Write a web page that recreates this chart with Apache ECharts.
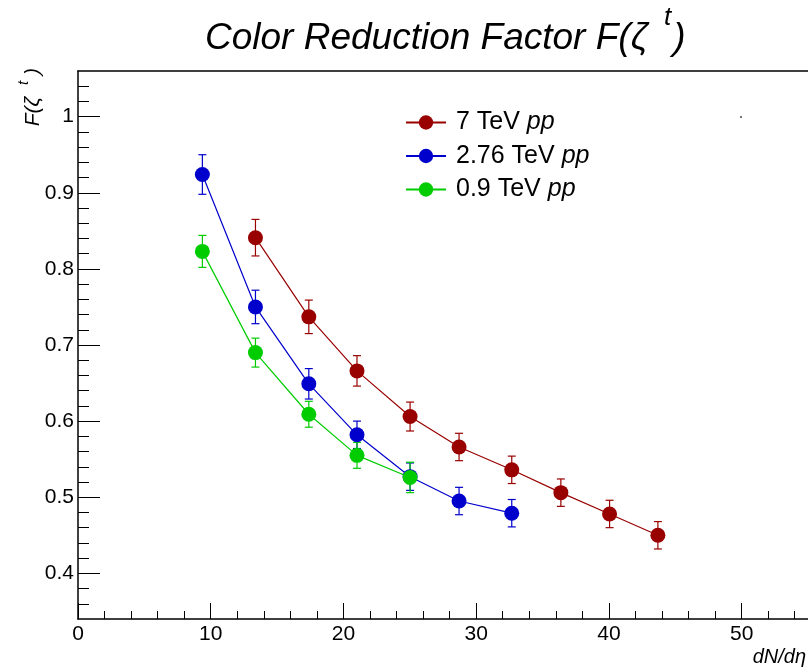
<!DOCTYPE html>
<html>
<head>
<meta charset="utf-8">
<script src="https://cdn.jsdelivr.net/npm/echarts@6/dist/echarts.min.js"></script>
<style>
html,body{margin:0;padding:0;background:#fff;}
#chart{width:808px;height:670px;}
</style>
</head>
<body>
<div id="chart"></div>
<script>
// ---- data ----
var seriesNames = ['7 TeV pp', '2.76 TeV pp', '0.9 TeV pp'];
var redX = [13.37, 17.39, 21.02, 25.02, 28.71, 32.68, 36.38, 40.05, 43.69];
var redY = [0.841, 0.737, 0.666, 0.606, 0.566, 0.536, 0.506, 0.478, 0.450];
var redErr = [0.024, 0.022, 0.020, 0.019, 0.018, 0.018, 0.018, 0.018, 0.018];
var blueX = [9.37, 13.37, 17.39, 21.02, 25.02, 28.71, 32.68];
var blueY = [0.924, 0.750, 0.649, 0.582, 0.527, 0.495, 0.479];
var blueErr = [0.026, 0.022, 0.020, 0.018, 0.018, 0.018, 0.018];
var greenX = [9.37, 13.37, 17.39, 21.02, 25.02];
var greenY = [0.823, 0.690, 0.609, 0.555, 0.526];
var greenErr = [0.021, 0.019, 0.017, 0.017, 0.020];
var xMajorTicks = [0, 10, 20, 30, 40, 50];
var xMinorTicks = [2, 4, 6, 8, 12, 14, 16, 18, 22, 24, 26, 28, 32, 34, 36, 38, 42, 44, 46, 48, 52, 54];
var yMajorTicks = [0.4, 0.5, 0.6, 0.7, 0.8, 0.9, 1.0];
var yMinorTicks = [0.36, 0.38, 0.42, 0.44, 0.46, 0.48, 0.52, 0.54, 0.56, 0.58, 0.62, 0.64, 0.66, 0.68, 0.72, 0.74, 0.76, 0.78, 0.82, 0.84, 0.86, 0.88, 0.92, 0.94, 0.96, 0.98, 1.02, 1.04];

var colors = ['#990000', '#0000cc', '#00cc00'];
var FONT = '"Liberation Sans", Arial, Helvetica, sans-serif';

function zip(xs, ys) { return xs.map(function (x, i) { return [x, ys[i]]; }); }
function errData(xs, ys, es) { return xs.map(function (x, i) { return [x, ys[i] - es[i], ys[i] + es[i]]; }); }

function errSeries(name, data, color) {
  return {
    type: 'custom', name: name, data: data, z: 2, silent: true,
    encode: { x: 0, y: [1, 2] },
    renderItem: function (params, api) {
      var x = api.value(0);
      var lo = api.coord([x, api.value(1)]);
      var hi = api.coord([x, api.value(2)]);
      var w = 4;
      var st = { stroke: color, lineWidth: 1.2 };
      return {
        type: 'group', children: [
          { type: 'line', shape: { x1: lo[0], y1: lo[1], x2: hi[0], y2: hi[1] }, style: st },
          { type: 'line', shape: { x1: lo[0] - w, y1: lo[1], x2: lo[0] + w, y2: lo[1] }, style: st },
          { type: 'line', shape: { x1: hi[0] - w, y1: hi[1], x2: hi[0] + w, y2: hi[1] }, style: st }
        ]
      };
    }
  };
}
function lineSeries(name, data, color) {
  return {
    type: 'line', name: name, data: data, z: 3,
    symbol: 'circle', symbolSize: 15, showSymbol: true,
    itemStyle: { color: color },
    lineStyle: { color: color, width: 1.2 },
    animation: false
  };
}

var axisBlack = { color: '#000', width: 1.5 };
var tickBlack = { color: '#000', width: 1 };

var chart = echarts.init(document.getElementById('chart'), null, { renderer: 'canvas' });
chart.setOption({
  animation: false,
  backgroundColor: '#fff',
  title: {
    text: '{a|Color Reduction Factor F(ζ }{s|t}{a|)}',
    left: 200, top: 0,
    textStyle: {
      rich: {
        a: { fontFamily: FONT, fontStyle: 'italic', fontWeight: 'normal', fontSize: 37, color: '#000', lineHeight: 52, verticalAlign: 'bottom' },
        s: { fontFamily: FONT, fontStyle: 'italic', fontWeight: 'normal', fontSize: 26, color: '#000', lineHeight: 30, verticalAlign: 'top', padding: [0, 2, 0, 6] }
      }
    }
  },
  legend: {
    orient: 'vertical', left: 400, top: 105,
    itemWidth: 40, itemHeight: 18, itemGap: 8.5,
    data: seriesNames,
    formatter: function (name) {
      var parts = name.split(' pp');
      return '{n|' + parts[0] + ' }{i|pp}';
    },
    textStyle: {
      rich: {
        n: { fontFamily: FONT, fontSize: 25, color: '#000', padding: [0, 0, 0, 5] },
        i: { fontFamily: FONT, fontSize: 25, color: '#000', fontStyle: 'italic' }
      }
    }
  },
  grid: { left: 78, top: 71, width: 730, height: 548, show: false },
  xAxis: [{
    type: 'value', min: 0, max: 55, position: 'bottom',
    axisLine: { show: true, onZero: false, lineStyle: axisBlack },
    axisTick: { show: true, inside: true, length: 16, customValues: xMajorTicks, lineStyle: tickBlack },
    splitLine: { show: false },
    axisLabel: { fontFamily: FONT, fontSize: 21, color: '#000', margin: 5, customValues: xMajorTicks }
  }, {
    type: 'value', min: 0, max: 55, position: 'bottom',
    axisLine: { show: false, onZero: false },
    axisTick: { show: true, inside: true, length: 8, customValues: xMinorTicks, lineStyle: tickBlack },
    splitLine: { show: false },
    axisLabel: { show: false }
  }, {
    type: 'value', min: 0, max: 55, position: 'top',
    axisLine: { show: true, onZero: false, lineStyle: axisBlack },
    axisTick: { show: false },
    splitLine: { show: false },
    axisLabel: { show: false }
  }],
  yAxis: [{
    type: 'value', min: 0.34, max: 1.06, position: 'left',
    axisLine: { show: true, onZero: false, lineStyle: axisBlack },
    axisTick: { show: true, inside: true, length: 22, customValues: yMajorTicks, lineStyle: tickBlack },
    splitLine: { show: false },
    axisLabel: {
      fontFamily: FONT, fontSize: 21, color: '#000', margin: 4, customValues: yMajorTicks,
      formatter: function (v) { return String(Math.round(v * 10) / 10); }
    }
  }, {
    type: 'value', min: 0.34, max: 1.06, position: 'left',
    axisLine: { show: false, onZero: false },
    axisTick: { show: true, inside: true, length: 11, customValues: yMinorTicks, lineStyle: tickBlack },
    splitLine: { show: false },
    axisLabel: { show: false }
  }],
  graphic: [
    {
      type: 'text', x: 30, y: 68, rotation: Math.PI / 2,
      style: {
        text: '{a|F(ζ  }{s|t}{a| )}', align: 'right', verticalAlign: 'middle',
        rich: {
          a: { fontFamily: FONT, fontStyle: 'italic', fontSize: 21, fill: '#000', lineHeight: 28, verticalAlign: 'bottom' },
          s: { fontFamily: FONT, fontStyle: 'italic', fontSize: 15, fill: '#000', lineHeight: 18, verticalAlign: 'top' }
        }
      }
    },
    {
      type: 'text', x: 806, y: 657,
      style: { text: 'dN/dη', align: 'right', verticalAlign: 'middle', fontFamily: FONT, fontStyle: 'italic', fontSize: 20, fill: '#000' }
    },
    { type: 'rect', shape: { x: 740, y: 116, width: 2, height: 2 }, style: { fill: '#777' } }
  ],
  series: [
    errSeries('7 TeV pp err', errData(redX, redY, redErr), colors[0]),
    errSeries('2.76 TeV pp err', errData(blueX, blueY, blueErr), colors[1]),
    errSeries('0.9 TeV pp err', errData(greenX, greenY, greenErr), colors[2]),
    lineSeries(seriesNames[0], zip(redX, redY), colors[0]),
    lineSeries(seriesNames[1], zip(blueX, blueY), colors[1]),
    lineSeries(seriesNames[2], zip(greenX, greenY), colors[2])
  ]
});
</script>
</body>
</html>
